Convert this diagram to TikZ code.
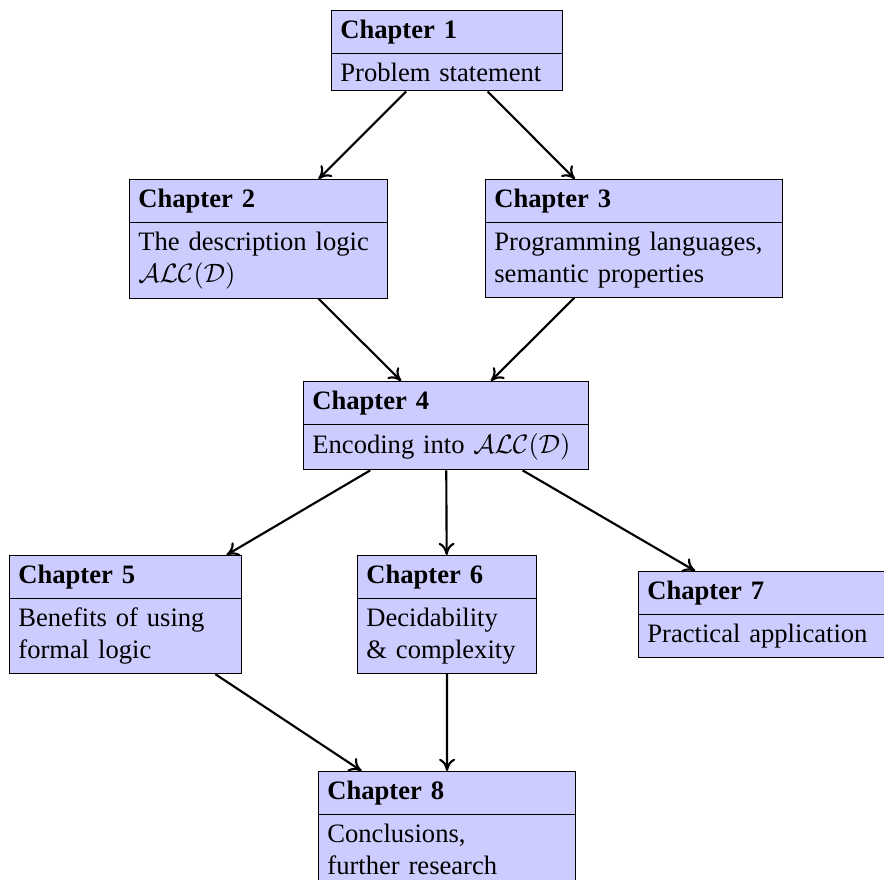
\documentclass[tikz,border=0pt]{standalone}
\usepackage{fontspec}
\setmainfont{Liberation Serif}
\usetikzlibrary{shapes.multipart,
                arrows.meta}

\begin{document}
\begin{tikzpicture}[x=0.376pt,y=-0.376pt,
                    chapter/.style={rectangle split,
                                    rectangle split parts=2,
                                    rectangle split part align={left},
                                    align=left,
                                    draw,
                                    fill=blue!20,
                                    anchor=north west},
                    link/.style={-{To[length=4.6pt,width=6pt]},thick}]
   \useasboundingbox (0,0) rectangle (884,879);
   \node [chapter,text width=80.2pt]  (chap1) at (331,10)  {\textbf{Chapter 1}\nodepart{two}Problem statement};
   \node [chapter,text width=90.3pt]  (chap2) at (129,179) {\textbf{Chapter 2}\nodepart{two}The description logic\\$\mathcal{ALC}(\mathcal{D})$};
   \node [chapter,text width=105pt]   (chap3) at (485,179) {\textbf{Chapter 3}\nodepart{two}Programming languages,\\semantic properties};
   \node [chapter,text width=100.5pt] (chap4) at (303,381) {\textbf{Chapter 4}\nodepart{two}Encoding into $\mathcal{ALC}(\mathcal{D})$};
   \node [chapter,text width=80.5pt]  (chap5) at (9,555)   {\textbf{Chapter 5}\nodepart{two}Benefits of using\\formal logic};
   \node [chapter,text width=60.6pt]  (chap6) at (357,555) {\textbf{Chapter 6}\nodepart{two}Decidability\\\& complexity};
   \node [chapter,text width=92pt]    (chap7) at (638,571) {\textbf{Chapter 7}\nodepart{two}Practical application};
   \node [chapter,text width=90pt]    (chap8) at (318,771) {\textbf{Chapter 8}\nodepart{two}Conclusions,\\further research};
   \draw [link] (chap1) -- (chap2);
   \draw [link] (chap1) -- (chap3);
   \draw [link] (chap2) -- (chap4);
   \draw [link] (chap3) -- (chap4);
   \draw [link] (chap4) -- (chap5);
   \draw [link] (chap4) -- (chap6);
   \draw [link] (chap4) -- (chap7);
   \draw [link] (chap5) -- (chap8);
   \draw [link] (chap6) -- (chap8);
\end{tikzpicture}
\end{document}
